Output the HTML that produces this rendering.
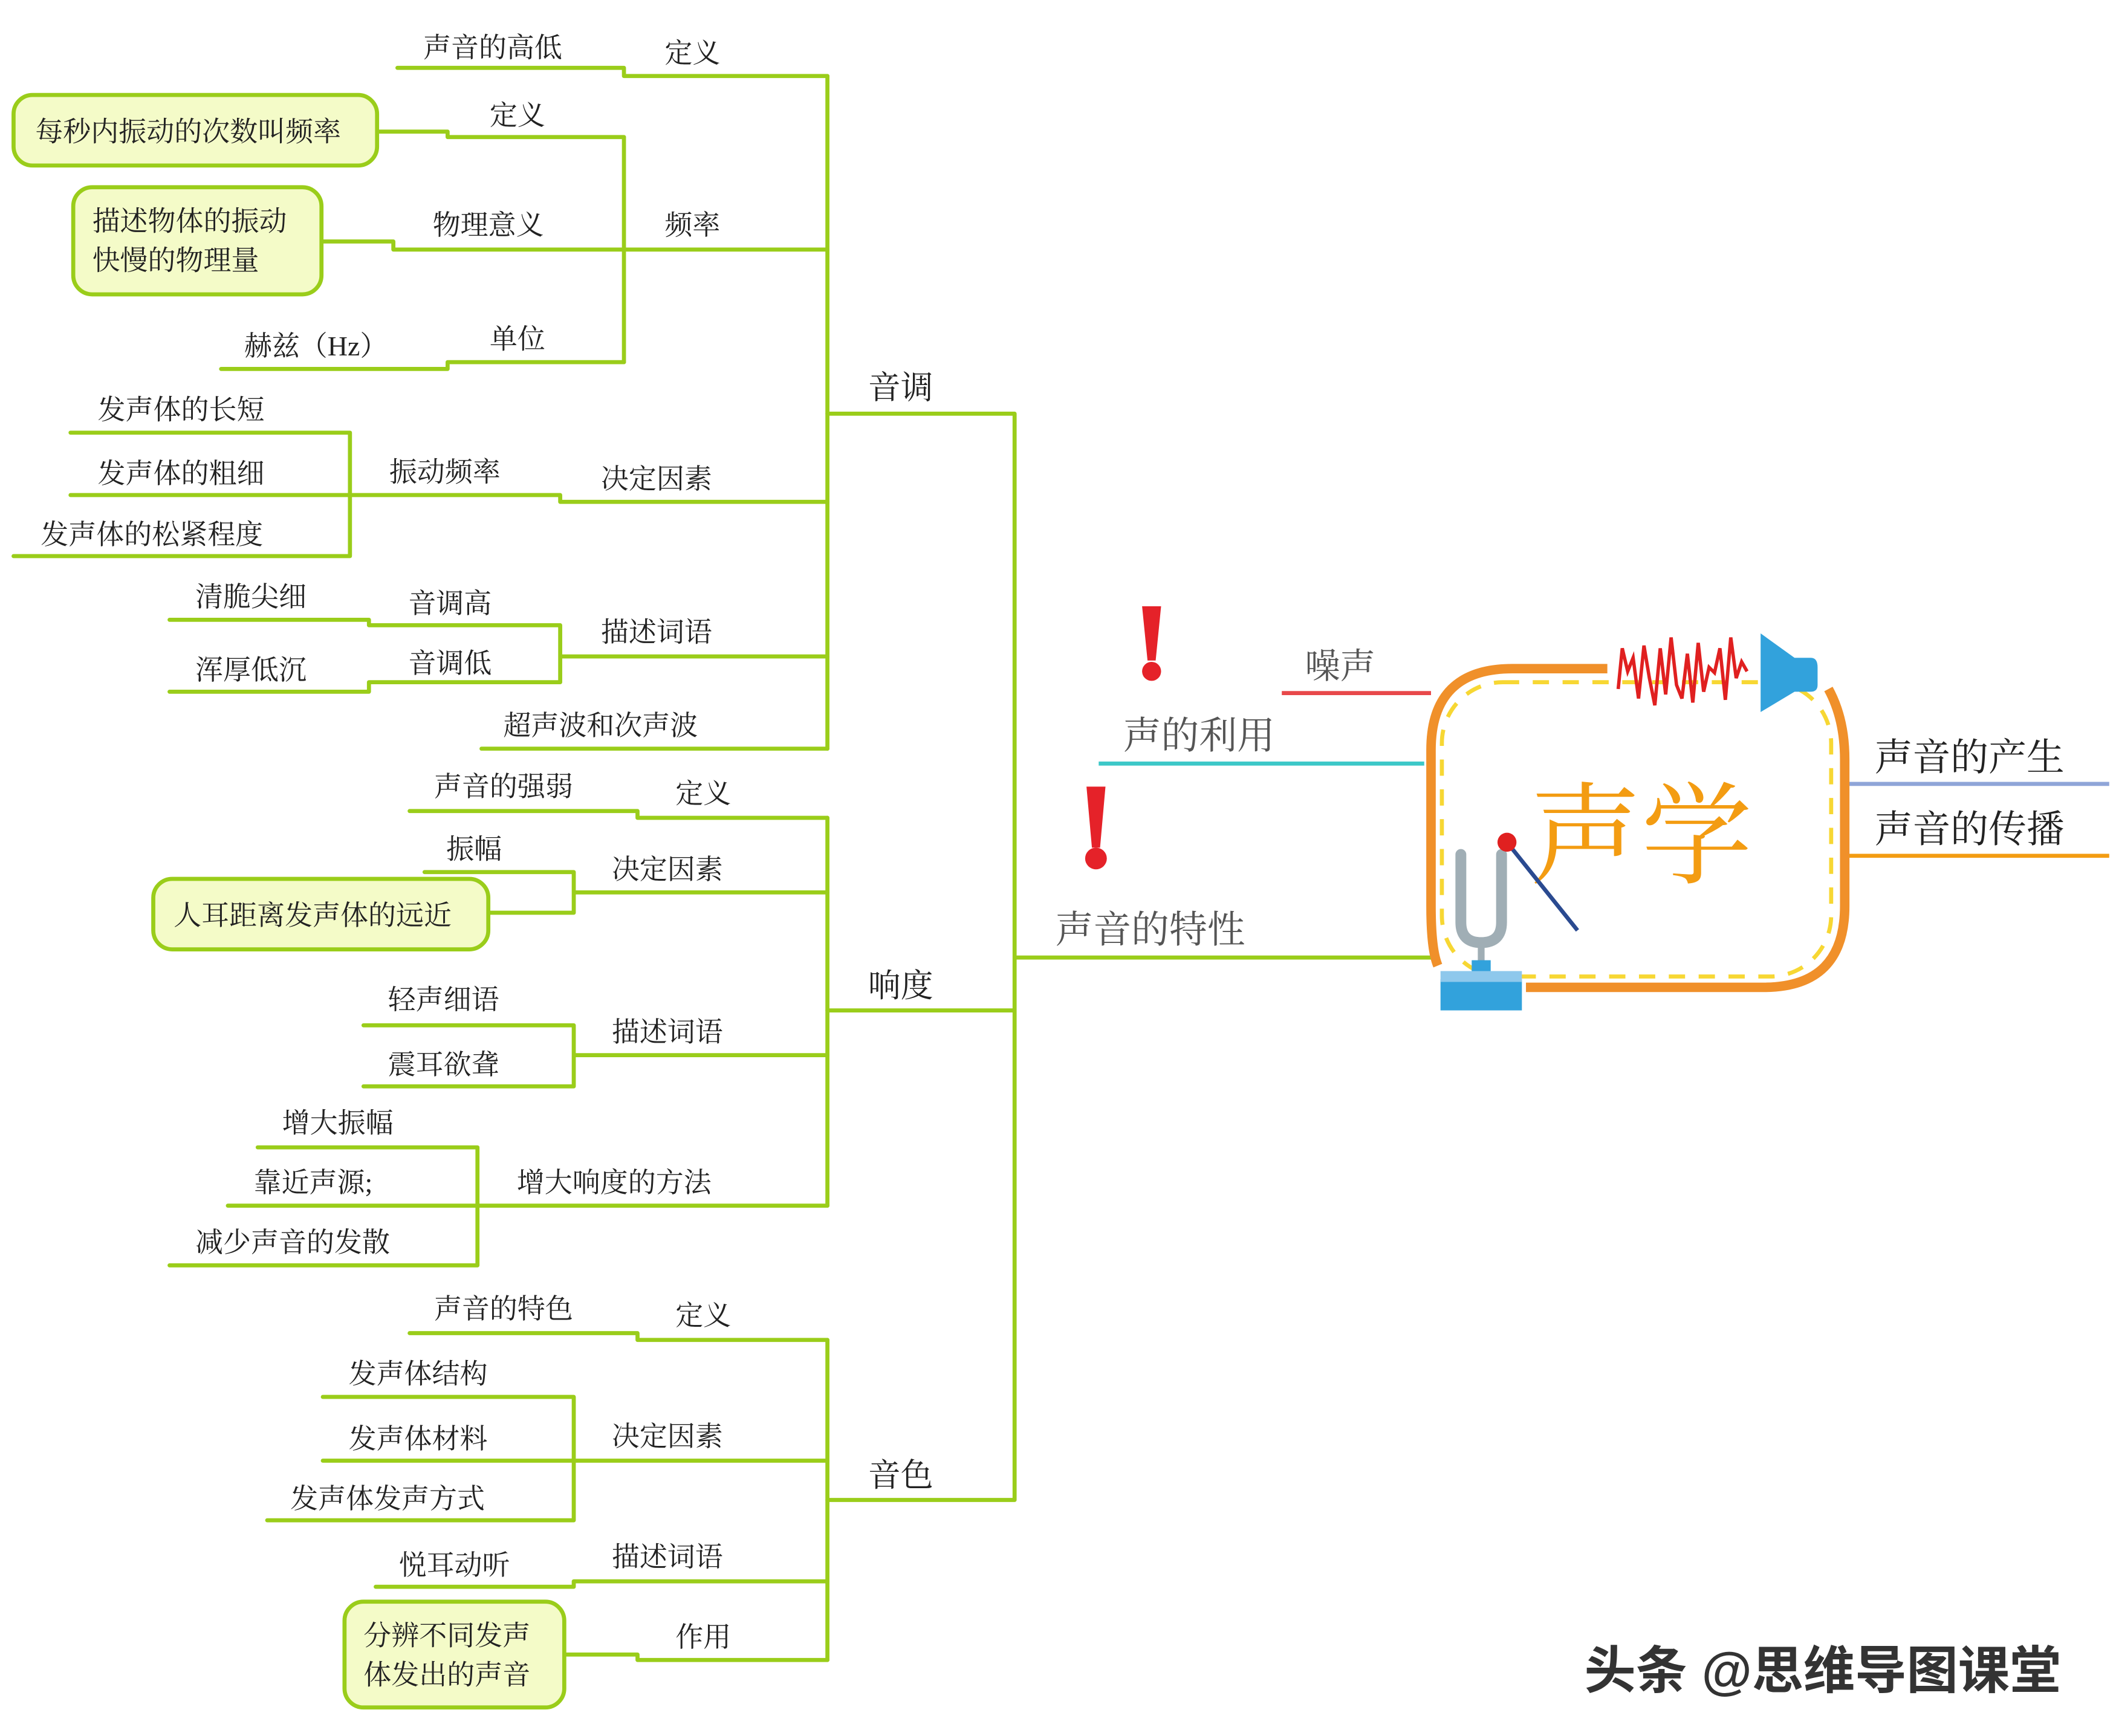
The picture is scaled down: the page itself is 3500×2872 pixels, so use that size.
<!DOCTYPE html>
<html><head><meta charset="utf-8"><style>
html,body{margin:0;padding:0;background:#fff;}
svg{display:block}
text{font-family:"Liberation Serif","Noto Serif CJK SC",serif;fill:#222;font-size:20.5px}
.g{fill:none;stroke:#9acd1a;stroke-width:3;stroke-linejoin:round;stroke-linecap:round}
.b{fill:#f4fbc8;stroke:#9acd1a;stroke-width:3}
.gray{fill:#555;font-size:28px}
</style></head><body>
<svg width="3500" height="2872" viewBox="0 0 1560 1280" xmlns="http://www.w3.org/2000/svg">
<g class="g">
<!-- main trunk -->
<path d="M610 305 H748 V1106 H610 M748 745 H610 M748 706 H1055"/>
<!-- 音调 -->
<path d="M610 56 V552"/>
<path d="M293 50 H460 V56 H610"/>
<path d="M460 184 H610 M460 101 V267"/>
<path d="M278 97 H330 V101 H460"/>
<path d="M237 178 H290 V184 H460"/>
<path d="M163 272 H330 V267 H460"/>
<path d="M258 365 H413 V370 H610 M258 319 V410 M52 319 H258 M52 365 H258 M10 410 H258"/>
<path d="M413 484 H610 M413 461 V503 M125 457 H272 V461 H413 M125 510 H272 V503 H413"/>
<path d="M355 552 H610"/>
<!-- 响度 -->
<path d="M610 603 V889"/>
<path d="M302 598 H470 V603 H610"/>
<path d="M423 658 H610 M423 643 V673 M313 643 H423 M360 673 H423"/>
<path d="M423 778 H610 M423 756 V801 M268 756 H423 M268 801 H423"/>
<path d="M352 889 H610 M352 846 V933 M190 846 H352 M168 889 H352 M125 933 H352"/>
<!-- 音色 -->
<path d="M610 988 V1224"/>
<path d="M302 983 H470 V988 H610"/>
<path d="M423 1077 H610 M423 1030 V1121 M238 1030 H423 M238 1077 H423 M197 1121 H423"/>
<path d="M277 1170 H423 V1166 H610"/>
<path d="M416 1220 H470 V1224 H610"/>
</g>
<!-- boxes -->
<rect class="b" x="10" y="70" width="268" height="52" rx="14"/>
<rect class="b" x="54" y="138" width="183" height="79" rx="14"/>
<rect class="b" x="113" y="648" width="247" height="52" rx="14"/>
<rect class="b" x="254" y="1181" width="162" height="78" rx="14"/>
<!-- texts 音调 -->
<text x="312" y="42">声音的高低</text>
<text x="490" y="46">定义</text>
<text x="361" y="92">定义</text>
<text x="26" y="104">每秒内振动的次数叫频率</text>
<text x="490" y="173">频率</text>
<text x="319" y="173">物理意义</text>
<text x="68" y="170">描述物体的振动</text>
<text x="68" y="199">快慢的物理量</text>
<text x="180" y="262">赫兹（Hz）</text>
<text x="361" y="257">单位</text>
<text x="640" y="294" style="font-size:24px">音调</text>
<text x="72" y="309">发声体的长短</text>
<text x="72" y="356">发声体的粗细</text>
<text x="30" y="401">发声体的松紧程度</text>
<text x="287" y="355">振动频率</text>
<text x="443" y="360">决定因素</text>
<text x="144" y="447">清脆尖细</text>
<text x="301" y="452">音调高</text>
<text x="443" y="473">描述词语</text>
<text x="144" y="501">浑厚低沉</text>
<text x="301" y="496">音调低</text>
<text x="371" y="542">超声波和次声波</text>
<!-- 响度 -->
<text x="320" y="587">声音的强弱</text>
<text x="498" y="592">定义</text>
<text x="329" y="633">振幅</text>
<text x="451" y="648">决定因素</text>
<text x="128" y="682">人耳距离发声体的远近</text>
<text x="640" y="735" style="font-size:24px">响度</text>
<text x="286" y="744">轻声细语</text>
<text x="451" y="768">描述词语</text>
<text x="286" y="792">震耳欲聋</text>
<text x="208" y="835">增大振幅</text>
<text x="187" y="879">靠近声源;</text>
<text x="381" y="879">增大响度的方法</text>
<text x="144" y="923">减少声音的发散</text>
<!-- 音色 -->
<text x="320" y="972">声音的特色</text>
<text x="498" y="977">定义</text>
<text x="257" y="1020">发声体结构</text>
<text x="451" y="1066">决定因素</text>
<text x="257" y="1068">发声体材料</text>
<text x="640" y="1096" style="font-size:24px">音色</text>
<text x="214" y="1112">发声体发声方式</text>
<text x="294" y="1161">悦耳动听</text>
<text x="451" y="1155">描述词语</text>
<text x="498" y="1214">作用</text>
<text x="268" y="1213">分辨不同发声</text>
<text x="268" y="1242">体发出的声音</text>
<!-- right side -->
<line x1="945" y1="511" x2="1055" y2="511" stroke="#e8484a" stroke-width="3"/>
<line x1="810" y1="563" x2="1050" y2="563" stroke="#3cc8c8" stroke-width="3"/>
<line x1="1360" y1="578" x2="1555" y2="578" stroke="#8fa5d8" stroke-width="3"/>
<line x1="1360" y1="631" x2="1555" y2="631" stroke="#f39c12" stroke-width="3"/>
<text x="962" y="500" class="gray" style="font-size:26px">噪声</text>
<text x="828" y="552" class="gray">声的利用</text>
<text x="778" y="695" class="gray">声音的特性</text>
<text x="1382" y="568" style="font-size:28px">声音的产生</text>
<text x="1382" y="621" style="font-size:28px">声音的传播</text>
<!-- exclamations -->
<g fill="#e52229">
<path d="M842 447 H856 L852 487 H846 Z"/><circle cx="849" cy="495" r="7"/>
<path d="M801 580 H815 L811 625 H805 Z"/><circle cx="808" cy="633" r="8"/>
</g>
<!-- central frame -->
<path d="M1185 493 H1115 Q1055 493 1055 553 V668 Q1055 700 1060 712" fill="none" stroke="#f0902a" stroke-width="7"/>
<path d="M1348 508 Q1360 530 1360 560 V668 Q1360 728 1300 728 H1125" fill="none" stroke="#f0902a" stroke-width="7"/>
<rect x="1063" y="503" width="287" height="217" rx="45" fill="none" stroke="#f7d733" stroke-width="3" stroke-dasharray="12 10"/>
<polyline points="1193,508 1196,478 1200,495 1204,485 1208,515 1212,476 1216,500 1220,520 1224,478 1228,512 1232,470 1236,505 1240,515 1244,482 1248,518 1252,474 1256,510 1260,492 1264,496 1268,478 1272,516 1276,470 1280,500 1284,488 1288,495" fill="none" stroke="#e02020" stroke-width="2.5"/>
<path d="M1298 467 L1323 485 H1335 Q1340 485 1340 492 V505 Q1340 510 1335 510 H1323 L1298 525 Z" fill="#32a2dc"/>
<text x="1128" y="645" style="font-size:82px;fill:#f39c12">声学</text>
<!-- tuning fork -->
<path d="M1077 630 V680 Q1077 695 1092 695 Q1107 695 1107 680 V630" fill="none" stroke="#a0aeb5" stroke-width="8" stroke-linecap="round"/>
<line x1="1092" y1="695" x2="1092" y2="712" stroke="#a0aeb5" stroke-width="5"/>
<rect x="1085" y="708" width="14" height="14" fill="#32a2dc"/>
<rect x="1062" y="722" width="60" height="23" fill="#32a2dc"/>
<rect x="1062" y="716" width="60" height="8" fill="#8ec8ec"/>
<line x1="1111" y1="621" x2="1163" y2="686" stroke="#2a4a90" stroke-width="3"/>
<circle cx="1111" cy="621" r="7" fill="#e02020"/>
<!-- watermark -->
<text x="1168" y="1245" style="font-family:'Liberation Sans','Noto Sans CJK SC',sans-serif;font-size:38px;font-weight:bold;fill:#333">头条 @思维导图课堂</text>
</svg>
</body></html>
